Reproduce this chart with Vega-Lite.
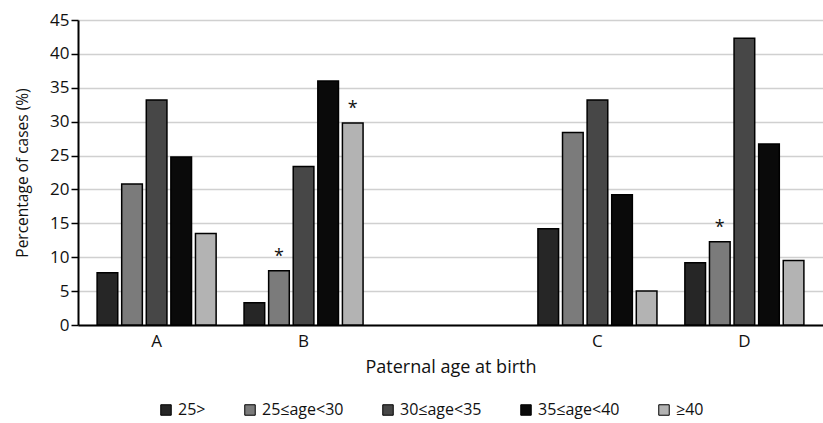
{
  "$schema": "https://vega.github.io/schema/vega-lite/v6.json",
  "autosize": {"type": "none"},
  "width": 745,
  "height": 305,
  "padding": {"left": 78, "top": 20, "right": 0, "bottom": 98},
  "background": "white",
  "config": {
    "font": "Open Sans",
    "view": {"stroke": null}
  },
  "data": {
    "values": [
      {"group": "A", "age": "25>", "value": 7.7, "sig": ""},
      {"group": "A", "age": "25≤age<30", "value": 20.8, "sig": ""},
      {"group": "A", "age": "30≤age<35", "value": 33.2, "sig": ""},
      {"group": "A", "age": "35≤age<40", "value": 24.8, "sig": ""},
      {"group": "A", "age": "≥40", "value": 13.5, "sig": ""},
      {"group": "B", "age": "25>", "value": 3.3, "sig": ""},
      {"group": "B", "age": "25≤age<30", "value": 8.0, "sig": "*"},
      {"group": "B", "age": "30≤age<35", "value": 23.4, "sig": ""},
      {"group": "B", "age": "35≤age<40", "value": 36.0, "sig": ""},
      {"group": "B", "age": "≥40", "value": 29.8, "sig": "*"},
      {"group": "C", "age": "25>", "value": 14.2, "sig": ""},
      {"group": "C", "age": "25≤age<30", "value": 28.4, "sig": ""},
      {"group": "C", "age": "30≤age<35", "value": 33.2, "sig": ""},
      {"group": "C", "age": "35≤age<40", "value": 19.2, "sig": ""},
      {"group": "C", "age": "≥40", "value": 5.0, "sig": ""},
      {"group": "D", "age": "25>", "value": 9.2, "sig": ""},
      {"group": "D", "age": "25≤age<30", "value": 12.3, "sig": "*"},
      {"group": "D", "age": "30≤age<35", "value": 42.3, "sig": ""},
      {"group": "D", "age": "35≤age<40", "value": 26.7, "sig": ""},
      {"group": "D", "age": "≥40", "value": 9.5, "sig": ""}
    ]
  },
  "encoding": {
    "x": {
      "field": "group",
      "type": "nominal",
      "scale": {"domain": ["A", "B", " ", "C", "D"], "paddingInner": 0.19, "paddingOuter": 0.13},
      "axis": {
        "title": "Paternal age at birth",
        "titleFontSize": 18,
        "titleFontWeight": "normal",
        "titleColor": "#111",
        "titlePadding": 9,
        "labelAngle": 0,
        "labelFontSize": 17,
        "labelColor": "#111",
        "labelPadding": 8,
        "ticks": false,
        "domainColor": "#000",
        "domainWidth": 2,
        "grid": false
      }
    },
    "xOffset": {
      "field": "age",
      "type": "nominal",
      "sort": ["25>", "25≤age<30", "30≤age<35", "35≤age<40", "≥40"],
      "scale": {"paddingInner": 0.16, "paddingOuter": 0}
    },
    "y": {
      "field": "value",
      "type": "quantitative",
      "scale": {"domain": [0, 45], "nice": false},
      "axis": {
        "title": "Percentage of cases (%)",
        "titleFontSize": 15.5,
        "titleFontWeight": "normal",
        "titleColor": "#111",
        "titlePadding": 19,
        "values": [0, 5, 10, 15, 20, 25, 30, 35, 40, 45],
        "labelFontSize": 17,
        "labelColor": "#111",
        "labelPadding": 2,
        "tickColor": "#000",
        "tickSize": 7,
        "tickWidth": 1.5,
        "domainColor": "#000",
        "domainWidth": 2,
        "gridColor": "#d0d0d0",
        "gridWidth": 1.5
      }
    }
  },
  "layer": [
    {
      "mark": {"type": "bar", "stroke": "#000", "strokeWidth": 1.5},
      "encoding": {
        "fill": {
          "field": "age",
          "type": "nominal",
          "scale": {
            "domain": ["25>", "25≤age<30", "30≤age<35", "35≤age<40", "≥40"],
            "range": ["#262626", "#7b7b7b", "#474747", "#0a0a0a", "#b3b3b3"]
          },
          "legend": {
            "title": null,
            "orient": "none",
            "direction": "horizontal",
            "legendX": 80,
            "legendY": 382,
            "symbolType": "square",
            "symbolSize": 110,
            "symbolStrokeColor": "#000",
            "symbolStrokeWidth": 1,
            "labelFontSize": 16,
            "labelColor": "#111",
            "labelOffset": 4,
            "columnPadding": 36
          }
        }
      }
    },
    {
      "transform": [{"filter": "datum.sig == '*'"}],
      "mark": {"type": "text", "baseline": "bottom", "dy": -5, "fontSize": 18, "color": "#111"},
      "encoding": {
        "text": {"field": "sig"}
      }
    }
  ]
}
